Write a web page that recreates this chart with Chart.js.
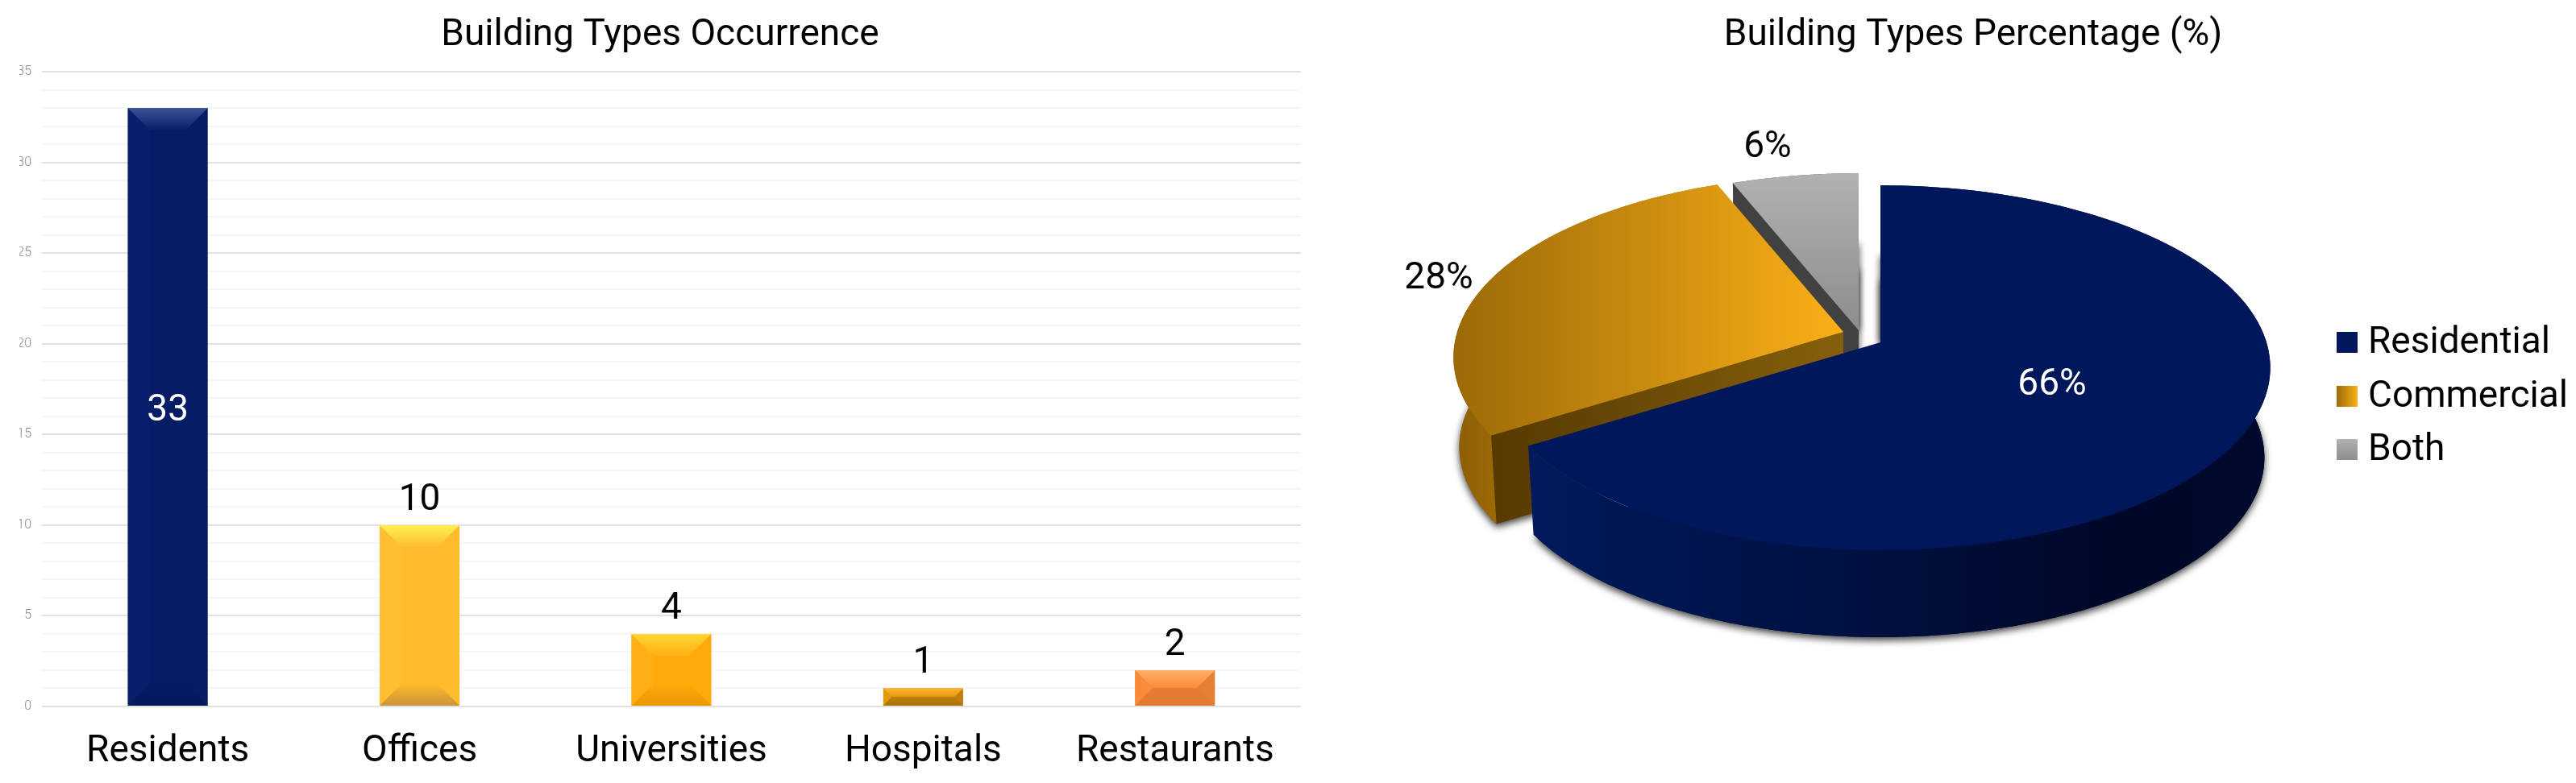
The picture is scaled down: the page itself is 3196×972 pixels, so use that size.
<!DOCTYPE html>
<html>
<head>
<meta charset="utf-8">
<script src="https://cdn.jsdelivr.net/npm/chart.js@4"></script>
<style>
  html, body { margin: 0; padding: 0; background: #fff; }
  #wrap { position: relative; width: 3196px; height: 972px; overflow: hidden; }
  canvas { position: absolute; top: 0; }
  #barChart { left: 0; }
  #pieChart { left: 1700px; }
</style>
</head>
<body>
<div id="wrap">
  <canvas id="barChart" width="1640" height="972"></canvas>
  <canvas id="pieChart" width="1496" height="972"></canvas>
</div>
<script>
const barLabels = ["Residents", "Offices", "Universities", "Hospitals", "Restaurants"];
const barValues = [33, 10, 4, 1, 2];
const pieLabels = ["Residential", "Commercial", "Both"];
const pieValues = [66, 28, 6];

const FONT = "Roboto, sans-serif";

// base, dark right edge, top bevel, bottom bevel, left bevel
const barColors = [
  ["#061c66", "#00114f", "#3d5196", "#05185a", "#08206c"],
  ["#ffbb2c", "#f9a623", "#fff050", "#c9933a", "#ffbf33"],
  ["#ffa90a", "#b97c00", "#ffd630", "#e99805", "#ffb015"],
  ["#c07f0a", "#8a5c06", "#ffb428", "#a97408", "#e09a10"],
  ["#e67e33", "#b8601f", "#ffb066", "#e07a30", "#fb8a3a"],
];

function barFill(ctx, left, right, c) {
  const g = ctx.createLinearGradient(left, 0, right, 0);
  g.addColorStop(0, c[0]);
  g.addColorStop(0.75, c[0]);
  g.addColorStop(0.97, c[1]);
  g.addColorStop(1, c[1]);
  return g;
}

// bevel on the bars plus the value labels
const barDecor = {
  id: "barDecor",
  afterDatasetsDraw(chart) {
    const ctx = chart.ctx;
    chart.getDatasetMeta(0).data.forEach((bar, i) => {
      const { x, y, base, width } = bar.getProps(["x", "y", "base", "width"], true);
      const l = x - width / 2;
      const r = x + width / 2;
      const c = barColors[i];
      const bevel = Math.min(27, (base - y) / 2);

      ctx.save();
      ctx.fillStyle = c[4];
      ctx.beginPath();
      ctx.moveTo(l, y);
      ctx.lineTo(l + bevel, y + bevel);
      ctx.lineTo(l + bevel, base - bevel);
      ctx.lineTo(l, base);
      ctx.closePath();
      ctx.fill();

      ctx.beginPath();
      ctx.moveTo(l, y);
      ctx.lineTo(r, y);
      ctx.lineTo(r - bevel, y + bevel);
      ctx.lineTo(l + bevel, y + bevel);
      ctx.closePath();
      const top = ctx.createLinearGradient(0, y, 0, y + bevel);
      top.addColorStop(0, c[2]);
      top.addColorStop(1, c[4]);
      ctx.fillStyle = top;
      ctx.fill();

      ctx.beginPath();
      ctx.moveTo(l, base);
      ctx.lineTo(r, base);
      ctx.lineTo(r - bevel, base - bevel);
      ctx.lineTo(l + bevel, base - bevel);
      ctx.closePath();
      const bot = ctx.createLinearGradient(0, base - bevel, 0, base);
      bot.addColorStop(0, c[0]);
      bot.addColorStop(1, c[3]);
      ctx.fillStyle = bot;
      ctx.fill();
      ctx.restore();

      ctx.save();
      ctx.font = "46px " + FONT;
      ctx.textAlign = "center";
      if (i === 0) {
        ctx.fillStyle = "#fff";
        ctx.textBaseline = "middle";
        ctx.fillText(barValues[i], x, (y + base) / 2 + 5);
      } else {
        ctx.fillStyle = "#000";
        ctx.textBaseline = "alphabetic";
        ctx.fillText(barValues[i], x, y - 19);
      }
      ctx.restore();
    });
  },
};

new Chart(document.getElementById("barChart").getContext("2d"), {
  type: "bar",
  data: {
    labels: barLabels,
    datasets: [{
      data: barValues,
      barPercentage: 0.317,
      categoryPercentage: 1,
      backgroundColor: (c) => {
        const { chart, dataIndex } = c;
        const el = chart.getDatasetMeta(0).data[dataIndex];
        if (!el || !el.width) return barColors[dataIndex][0];
        return barFill(chart.ctx, el.x - el.width / 2, el.x + el.width / 2, barColors[dataIndex]);
      },
    }],
  },
  options: {
    responsive: false,
    animation: false,
    layout: { padding: { left: 24, right: 26 } },
    plugins: {
      legend: { display: false },
      tooltip: { enabled: false },
      title: {
        display: true,
        text: "Building Types Occurrence",
        color: "#000",
        font: { family: FONT, size: 46, weight: "normal" },
        padding: { top: 17, bottom: 17 },
      },
    },
    scales: {
      x: {
        grid: { display: false },
        border: { display: false },
        ticks: { color: "#000", font: { family: FONT, size: 46 }, padding: 21, maxRotation: 0 },
        afterFit: (s) => { s.height = 95; },
      },
      y: {
        min: 0,
        max: 35,
        afterFit: (s) => { s.width = 28; },
        border: { display: false },
        grid: {
          drawTicks: false,
          lineWidth: 2,
          color: (c) => (c.tick.value % 5 === 0 ? "#e2e2e2" : "#f5f5f5"),
        },
        ticks: {
          stepSize: 1,
          autoSkip: false,
          padding: 13,
          color: "#888",
          font: { family: FONT, size: 16, weight: 300 },
          callback: (v) => (v % 5 === 0 ? v : ""),
        },
      },
    },
  },
  plugins: [barDecor],
});

// pie geometry: apex of the top face and its perspective, in canvas px
const PIE_X = 2333 - 1700;
const PIE_Y = 425;
const PIE_A = 479;
const PIE_B = 222;
const PIE_P = 0.139;
const PIE_DEPTH = 112;
const PIE_BOTTOM = 0.985;
const sliceShift = [[0, 0], [-46, -13], [-27, -15]];

function project(angle, shift, bottom) {
  const u = Math.cos(angle);
  const v = Math.sin(angle);
  const w = 1 - PIE_P * v;
  const k = bottom ? PIE_BOTTOM : 1;
  return [
    PIE_X + shift[0] + (k * PIE_A * u) / w,
    PIE_Y + shift[1] + (k * PIE_B * v) / w + (bottom ? PIE_DEPTH : 0),
  ];
}

function hGrad(ctx, x0, x1, stops) {
  const g = ctx.createLinearGradient(x0, 0, x1, 0);
  stops.forEach((s) => g.addColorStop(s[0], s[1]));
  return g;
}

function vGrad(ctx, y0, y1, stops) {
  const g = ctx.createLinearGradient(0, y0, 0, y1);
  stops.forEach((s) => g.addColorStop(s[0], s[1]));
  return g;
}

function polygon(ctx, pts) {
  ctx.beginPath();
  pts.forEach((p, i) => (i ? ctx.lineTo(p[0], p[1]) : ctx.moveTo(p[0], p[1])));
  ctx.closePath();
}

function slicePaints(ctx) {
  return [
    {
      top: "#00175c",
      wall: hGrad(ctx, 200, 1110, [[0, "#001a5c"], [0.45, "#001040"], [0.8, "#000828"], [1, "#000a2c"]]),
      face: "#000a2c",
    },
    {
      top: hGrad(ctx, 106, 590, [[0, "#9c6a08"], [1, "#fbb017"]]),
      wall: hGrad(ctx, 106, 200, [[0, "#8c5e06"], [1, "#a87408"]]),
      face: hGrad(ctx, 150, 590, [[0, "#573a02"], [1, "#86600c"]]),
    },
    {
      top: vGrad(ctx, 210, 410, [[0, "#b2b2b2"], [1, "#8d8d8d"]]),
      wall: "#555",
      face: "#414141",
    },
  ];
}

function legendPaints(ctx, x, y, s) {
  return [
    "#00175c",
    hGrad(ctx, x, x + s, [[0, "#9c6a08"], [1, "#fbb017"]]),
    vGrad(ctx, y, y + s, [[0, "#b2b2b2"], [1, "#8d8d8d"]]),
  ];
}

const pie3d = {
  id: "pie3d",
  // the library gives the slice angles, the faces are projected from them
  beforeDatasetsDraw(chart) {
    const ctx = chart.ctx;
    const arcs = chart.getDatasetMeta(0).data;
    const paints = slicePaints(ctx);

    [2, 1, 0].forEach((i) => {
      const a = arcs[i].getProps(["startAngle", "endAngle"], true);
      const shift = sliceShift[i];
      const p = paints[i];
      const steps = 120;
      const topEdge = [];
      const botEdge = [];
      for (let s = 0; s <= steps; s++) {
        const t = a.startAngle + ((a.endAngle - a.startAngle) * s) / steps;
        topEdge.push(project(t, shift, false));
        botEdge.push(project(t, shift, true));
      }
      const apex = [PIE_X + shift[0], PIE_Y + shift[1]];
      const apexLow = [apex[0], apex[1] + PIE_DEPTH];

      // bottom face only, so the soft shadow stays away from the top rim
      ctx.save();
      ctx.shadowColor = "rgba(0,0,0,0.75)";
      ctx.shadowBlur = 10;
      ctx.shadowOffsetY = 4;
      ctx.fillStyle = p.wall;
      polygon(ctx, [apexLow, ...botEdge]);
      ctx.fill();
      // the straight edge at 12 o'clock throws a thin shadow into the gap
      if (i !== 1) {
        const dir = i === 0 ? 1 : -1;
        const ex = apex[0];
        const ey = (i === 0 ? topEdge[0] : topEdge[steps])[1] + 88;
        ctx.shadowOffsetY = 0;
        polygon(ctx, [[ex, ey], [ex + dir * 10, ey], [ex + dir * 10, apex[1]], [ex, apex[1]]]);
        ctx.fill();
      }
      ctx.restore();

      // outer wall, then the cut face that looks at us, then the top
      ctx.fillStyle = p.wall;
      polygon(ctx, [...topEdge, ...botEdge.slice().reverse()]);
      ctx.fill();
      ctx.fillStyle = p.face;
      polygon(ctx, [apex, topEdge[0], botEdge[0], apexLow]);
      ctx.fill();

      ctx.fillStyle = p.top;
      polygon(ctx, [apex, ...topEdge]);
      ctx.fill();
    });

    // percentage labels
    ctx.save();
    ctx.font = "46px " + FONT;
    ctx.textAlign = "center";
    ctx.textBaseline = "middle";
    ctx.fillStyle = "#fff";
    ctx.fillText(pieValues[0] + "%", 2546 - 1700, 478);
    ctx.fillStyle = "#000";
    ctx.fillText(pieValues[1] + "%", 1785 - 1700, 346);
    ctx.fillText(pieValues[2] + "%", 2193 - 1700, 183);
    ctx.restore();

    // legend
    const boxX = 2899 - 1700;
    const rowY = [425, 492, 558];
    ctx.save();
    ctx.font = "46px " + FONT;
    ctx.textAlign = "left";
    ctx.textBaseline = "middle";
    pieLabels.forEach((label, i) => {
      const fill = legendPaints(ctx, boxX, rowY[i] - 13, 26)[i];
      ctx.fillStyle = fill;
      ctx.fillRect(boxX, rowY[i] - 13, 26, 26);
      ctx.fillStyle = "#000";
      ctx.fillText(label, boxX + 39, rowY[i] + 1);
    });
    ctx.restore();
    return false;
  },
};

new Chart(document.getElementById("pieChart").getContext("2d"), {
  type: "pie",
  data: {
    labels: pieLabels,
    datasets: [{ data: pieValues }],
  },
  options: {
    responsive: false,
    animation: false,
    plugins: {
      legend: { display: false },
      tooltip: { enabled: false },
      title: {
        display: true,
        text: "Building Types Percentage (%)",
        color: "#000",
        font: { family: FONT, size: 46, weight: "normal" },
        padding: { top: 17, bottom: 17 },
      },
    },
  },
  plugins: [pie3d],
});
</script>
</body>
</html>
